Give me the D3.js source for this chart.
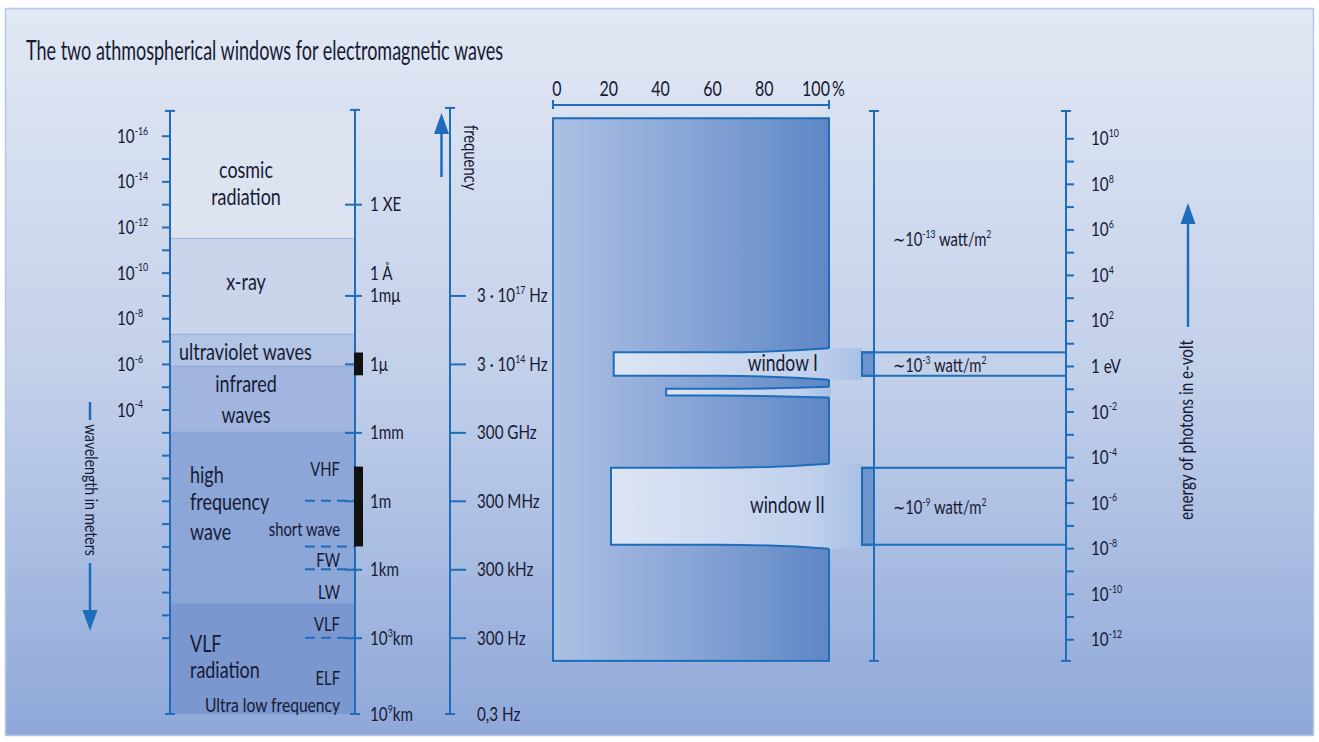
<!DOCTYPE html>
<html>
<head>
<meta charset="utf-8">
<script src="https://cdn.jsdelivr.net/npm/d3@7"></script>
<style>
  body { margin: 0; background: #fff; }
  svg text { font-family: Lato, "Open Sans", sans-serif; fill: #161a34; }
</style>
</head>
<body>
<svg id="chart" width="1319" height="742"></svg>
<script>
// ---- data (wavelengths as log10 of meters, photon energy as log10 of eV) ----
const wlTicks = d3.range(-16, 7);
const wlLabels = [-16, -14, -12, -10, -8, -6, -4];
const bandEdges = [-17, -11.5, -7.3, -5.9, -3, 4.5, 12];
const bandNames = [["cosmic", "radiation"], ["x-ray"], ["ultraviolet waves"], ["infrared", "waves"], ["high", "frequency", "wave"], ["VLF", "radiation"]];
const bandNameAt = [[-14.14, -12.95], [-9.23], [-6.17], [-4.78, -3.4], [-0.78, 0.41, 1.72], [7.1, 9.17]];
const radioNames = ["VHF", "short wave", "FW", "LW", "VLF", "ELF", "Ultra low frequency"];
const radioAt = [-1.1, 1.53, 2.89, 4.31, 5.69, 9.72, 11.82];
const radioSplits = [0, 2, 3, 6];
const unitExps = [-13, -9, -6, -3, 0, 3, 6, 12];
const unitNames = ["1 XE", "1mμ", "1μ", "1mm", "1m", "1km", "10^3km", "10^9km"];
const angstrom = -10;
const freqExps = [-9, -6, -3, 0, 3, 6, 12];
const freqNames = ["3 · 10^17 Hz", "3 · 10^14 Hz", "300 GHz", "300 MHz", "300 kHz", "300 Hz", "0,3 Hz"];
const blackBars = [[-6.5, -5.5], [-1.5, 2]];

const pctTicks = [0, 20, 40, 60, 80, 100];
const absorbTop = 10.88, absorbBottom = -12.95;
const windowNames = ["window I", "window II"];
const windowTop = [0.6, -4.47];
const windowBottom = [-0.43, -7.85];
const windowAbsorb = [22, 21];
const windowPower = ["∼10^-3 watt/m^2", "∼10^-9 watt/m^2"];
const slit = { top: -1.0, bottom: -1.3, absorb: 41 };
const blockedPower = "∼10^-13 watt/m^2";
const blockedPowerAt = 5.62;
const energyTicks = d3.range(-12, 11);
const energyLabels = [10, 8, 6, 4, 2, 0, -2, -4, -6, -8, -10, -12];
const energyTop = 11.2, energyBottom = -12.95;

// ---- layout ----
const blue = "#1d6dbb";
const SX = 0.78; // condensed look
const xL = 170, xR = 355, xF = 450;
const boxL = 862, powerX = 874, energyX = 1066;
const bandColors = ["#dde3f1", "#cad5eb", "#b3c4e5", "#a1b5de", "#8ba6d7", "#7a97cf"];

const svg = d3.select("#chart");
const defs = svg.append("defs");

function grad(id, stops, horizontal) {
  const g = defs.append("linearGradient").attr("id", id)
    .attr("x1", 0).attr("y1", 0).attr("x2", horizontal ? 1 : 0).attr("y2", horizontal ? 0 : 1);
  stops.forEach(([o, c]) => g.append("stop").attr("offset", o).attr("stop-color", c));
}
grad("bg", [[0, "#e2e8f4"], [0.5, "#c3d0ea"], [1, "#8fa8d9"]], false);
grad("absorb", [[0, "#acc0e4"], [0.5, "#88a5d6"], [1, "#5e87c5"]], true);
grad("win", [[0, "#dde5f4"], [0.8, "#c0d0ec"], [1, "#a9c0e6"]], true);

// text with ^superscripts
function rich(sel, str, size) {
  const parts = str.split(/\^(-?\d+)/);
  let up = false;
  parts.forEach((p, i) => {
    if (p === "") return;
    const t = sel.append("tspan").text(p);
    if (i % 2 === 1) {
      t.attr("font-size", size * 0.58);
      if (!up) { t.attr("dy", -size * 0.42); up = true; }
    } else if (up) {
      t.attr("dy", size * 0.42); up = false;
    }
  });
  return sel;
}
function label(g, x, y, str, size, anchor, rot) {
  const t = g.append("text")
    .attr("transform", `translate(${x},${y})${rot ? ` rotate(${rot})` : ""} scale(${SX},1)`)
    .attr("font-size", size).attr("text-anchor", anchor || "start");
  return rich(t, str, size);
}
function cap(g, x, y, half) {
  g.append("line").attr("x1", x - half).attr("x2", x + half).attr("y1", y).attr("y2", y)
    .attr("stroke", blue).attr("stroke-width", 2);
}
function vline(g, x, y1, y2, w) {
  g.append("line").attr("x1", x).attr("x2", x).attr("y1", y1).attr("y2", y2)
    .attr("stroke", blue).attr("stroke-width", w || 2);
}
function arrow(g, x, from, tip) {
  const dir = Math.sign(tip - from);
  vline(g, x, from, tip - dir * 18, 2.5);
  g.append("path").attr("fill", blue)
    .attr("d", `M${x},${tip}L${x - 7.5},${tip - dir * 21}L${x + 7.5},${tip - dir * 21}Z`);
}

// background frame
svg.append("rect").attr("x", 5.5).attr("y", 8.5).attr("width", 1308).attr("height", 727)
  .attr("fill", "url(#bg)").attr("stroke", "#b7c6e3").attr("stroke-width", 1.5);

svg.append("text").attr("x", 26).attr("y", 60).attr("font-size", 27)
  .attr("textLength", 477).attr("lengthAdjust", "spacingAndGlyphs")
  .text("The two athmospherical windows for electromagnetic waves");

// ---- wavelength column ----
const yW = d3.scaleLinear().domain([-17, 6, 12]).range([112.9, 637.7, 714]);
const left = svg.append("g");

left.selectAll("rect.band").data(bandNames).join("rect").attr("class", "band")
  .attr("x", xL).attr("width", xR - xL)
  .attr("y", (d, i) => yW(bandEdges[i]))
  .attr("height", (d, i) => yW(bandEdges[i + 1]) - yW(bandEdges[i]))
  .attr("fill", (d, i) => bandColors[i]);
left.selectAll("line.edge").data(bandEdges.slice(1, -1)).join("line").attr("class", "edge")
  .attr("x1", xL).attr("x2", xR).attr("y1", d => yW(d)).attr("y2", d => yW(d))
  .attr("stroke", "#7f9acb").attr("stroke-opacity", 0.6);

const bandX = [246, 246, 179, 246, 190, 190];
const bandAnchor = ["middle", "middle", "start", "middle", "start", "start"];
bandNames.forEach((lines, i) => lines.forEach((s, j) =>
  label(left, bandX[i], yW(bandNameAt[i][j]), s, 23, bandAnchor[i])));
radioNames.forEach((s, i) => label(left, 340, yW(radioAt[i]), s, i === 6 ? 20 : 19, "end"));

left.selectAll("line.split").data(radioSplits).join("line").attr("class", "split")
  .attr("x1", 305).attr("x2", xR).attr("y1", d => yW(d)).attr("y2", d => yW(d))
  .attr("stroke", blue).attr("stroke-width", 2).attr("stroke-dasharray", "10,6");

// left axis ticks
left.append("g").attr("transform", `translate(${xL},0)`).attr("color", blue)
  .call(d3.axisLeft(yW).tickValues(wlTicks).tickSize(8).tickFormat(() => ""))
  .call(g => g.select(".domain").remove())
  .call(g => g.selectAll(".tick line").attr("stroke-width", 2));
vline(left, xL, yW(-17) - 2, yW(12));
cap(left, xL, yW(-17) - 2, 5);
cap(left, xL, yW(12), 5);
wlLabels.forEach(e => label(left, 117, yW(e) + 7, "10^" + e, 19.5));

// right wavelength line with units
left.append("g").attr("transform", `translate(${xR},0)`).attr("color", blue)
  .call(d3.axisRight(yW).tickValues(unitExps.slice(0, -1)).tickSize(7).tickFormat(() => ""))
  .call(g => g.select(".domain").remove())
  .call(g => g.selectAll(".tick line").attr("x1", -10).attr("stroke-width", 2));
vline(left, xR, yW(-17) - 3, yW(12));
cap(left, xR, yW(-17) - 3, 5);
cap(left, xR, yW(12), 5);
left.selectAll("rect.bar").data(blackBars).join("rect").attr("class", "bar")
  .attr("x", xR - 1).attr("width", 9)
  .attr("y", d => yW(d[0])).attr("height", d => yW(d[1]) - yW(d[0])).attr("fill", "#111");
unitNames.forEach((s, i) => label(left, 370, yW(unitExps[i]) + 7, s, 19.5));
label(left, 370, yW(angstrom) + 7, "1 Å", 19.5);

// frequency line
left.append("g").attr("transform", `translate(${xF},0)`).attr("color", blue)
  .call(d3.axisRight(yW).tickValues(freqExps.slice(0, -1)).tickSize(16).tickFormat(() => ""))
  .call(g => g.select(".domain").remove())
  .call(g => g.selectAll(".tick line").attr("stroke-width", 2));
vline(left, xF, yW(-17) - 5, yW(12));
cap(left, xF, yW(-17) - 5, 5);
cap(left, xF, yW(12), 5);
freqNames.forEach((s, i) => label(left, 477, yW(freqExps[i]) + 7, s, 19.5));
arrow(left, 441.5, 177, 113);
label(left, 464, 125, "frequency", 19, "start", 90);

// wavelength title
arrow(left, 90, 563, 631);
vline(left, 90, 402, 420, 2.5);
label(left, 85, 490, "wavelength in meters", 18, "middle", 90);

// ---- absorption chart ----
const xP = d3.scaleLinear().domain([0, 100]).range([553, 829]);
const xLab = d3.scaleLinear().domain([0, 100]).range([557, 816]);
const yE = d3.scaleLinear().domain([0, 10]).range([366, 138.3]);
const mid = svg.append("g");

mid.append("g").attr("transform", "translate(0,104.5)").attr("color", blue)
  .call(d3.axisTop(xP).tickValues([]).tickSizeOuter(0))
  .call(g => g.select(".domain").attr("stroke-width", 2));
[0, 100].forEach(v => mid.append("line").attr("x1", xP(v)).attr("x2", xP(v))
  .attr("y1", 100).attr("y2", 109).attr("stroke", blue).attr("stroke-width", 2));
pctTicks.forEach(v => label(mid, xLab(v), 96, String(v), 20.5, "middle"));
label(mid, 832, 96, "%", 20.5);

mid.append("rect").attr("x", xP(0)).attr("y", yE(absorbTop))
  .attr("width", xP(100) - xP(0)).attr("height", yE(absorbBottom) - yE(absorbTop))
  .attr("fill", "url(#absorb)").attr("stroke", blue).attr("stroke-width", 2);

function gap(top, bottom, absorb, flare, reach) {
  const x0 = xP(absorb), x1 = xP(100), xs = x1 - 110, t = yE(top), b = yE(bottom);
  const outline = `M${x1},${t - flare}Q${x1 - 55},${t} ${xs},${t}L${x0},${t}L${x0},${b}L${xs},${b}Q${x1 - 55},${b} ${x1},${b + flare}`;
  return { outline, fill: outline + `L${reach},${b + flare}L${reach},${t - flare}Z` };
}
const gaps = windowNames.map((n, i) => gap(windowTop[i], windowBottom[i], windowAbsorb[i], 4, boxL))
  .concat([gap(slit.top, slit.bottom, slit.absorb, 2, xP(100) + 2)]);
mid.selectAll("path.gapfill").data(gaps).join("path").attr("class", "gapfill")
  .attr("d", d => d.fill).attr("fill", "url(#win)");
mid.selectAll("path.gapline").data(gaps).join("path").attr("class", "gapline")
  .attr("d", d => d.outline).attr("fill", "none").attr("stroke", blue).attr("stroke-width", 2);
windowNames.forEach((s, i) =>
  label(mid, i === 0 ? 818 : 825, (yE(windowTop[i]) + yE(windowBottom[i])) / 2 + 7, s, 22.5, "end"));

// ---- power and energy ----
const right = svg.append("g");
windowNames.forEach((s, i) => {
  const t = yE(windowTop[i]), b = yE(windowBottom[i]);
  right.append("rect").attr("x", boxL).attr("y", t).attr("width", powerX - boxL).attr("height", b - t)
    .attr("fill", "#6e94cd").attr("stroke", blue).attr("stroke-width", 2);
  right.append("rect").attr("x", boxL).attr("y", t).attr("width", energyX - boxL).attr("height", b - t)
    .attr("fill", "none").attr("stroke", blue).attr("stroke-width", 2);
  label(right, 893, (t + b) / 2 + 8, windowPower[i], 19);
});
label(right, 893, yE(blockedPowerAt) + 8, blockedPower, 19);

vline(right, powerX, yE(energyTop), yE(energyBottom));
cap(right, powerX, yE(energyTop), 5);
cap(right, powerX, yE(energyBottom), 5);

right.append("g").attr("transform", `translate(${energyX},0)`).attr("color", blue)
  .call(d3.axisRight(yE).tickValues(energyTicks).tickSize(8).tickFormat(() => ""))
  .call(g => g.select(".domain").remove())
  .call(g => g.selectAll(".tick line").attr("stroke-width", 2));
vline(right, energyX, yE(energyTop), yE(energyBottom));
cap(right, energyX, yE(energyTop), 5);
cap(right, energyX, yE(energyBottom), 5);
energyLabels.forEach(e => label(right, 1091, yE(e) + 7, e === 0 ? "1 eV" : "10^" + e, 19.5));

arrow(right, 1188, 327, 203);
label(right, 1193, 430, "energy of photons in e-volt", 19.5, "middle", -90);
</script>
</body>
</html>
